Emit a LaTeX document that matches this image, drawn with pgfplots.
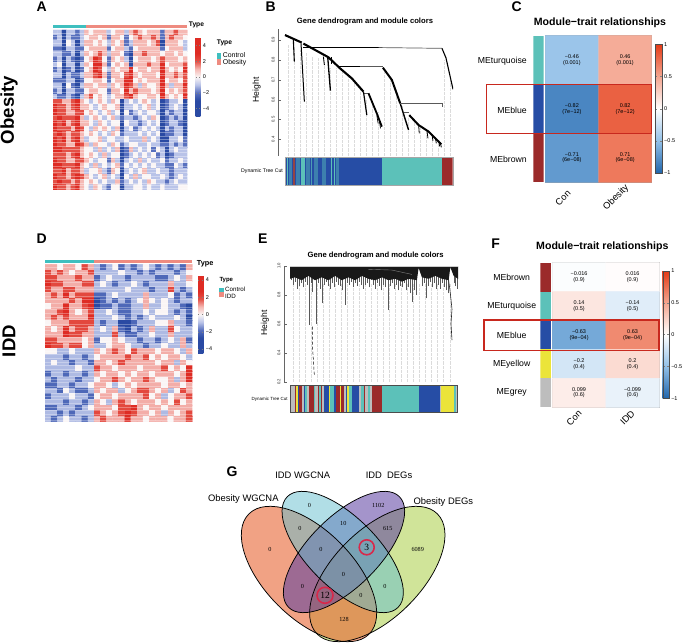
\documentclass[border=0pt]{standalone}
\usepackage{fontspec}
\setmainfont{Liberation Sans}
\newfontfamily\serifv{Liberation Serif}
\usepackage{pgfplots}
\pgfplotsset{compat=1.18}
\definecolor{tq}{RGB}{92,193,185}
\definecolor{bl}{RGB}{38,77,165}
\definecolor{br}{RGB}{155,42,42}
\definecolor{ye}{RGB}{235,228,58}
\definecolor{gy}{RGB}{189,189,189}
\definecolor{mb}{RGB}{61,128,174}
\definecolor{teal2}{RGB}{63,191,191}
\definecolor{salm}{RGB}{238,139,128}
\definecolor{hl}{RGB}{200,40,30}
\definecolor{ring}{RGB}{216,40,74}
\pgfplotsset{
 colormap={hmA}{rgb255(0)=(42,74,163); rgb255(2)=(42,74,163); rgb255(3)=(88,112,190); rgb255(4)=(185,195,232); rgb255(5)=(250,245,245); rgb255(6)=(245,185,180); rgb255(7)=(228,80,70); rgb255(8)=(222,44,36); rgb255(10)=(222,44,36)},
 colormap={rb}{rgb255(0)=(33,102,172); rgb255(1)=(146,192,232); rgb255(2)=(255,255,255); rgb255(3)=(244,165,143); rgb255(4)=(229,59,22)},
 bx/.style={scale only axis,anchor=south west,clip=true},
}
\newcommand{\sz}[1]{\fontsize{#1}{#1}\selectfont}
\newcommand{\T}[4][]{\node[inner sep=0pt,#1] at (#2,{643-#3}) {#4};}
\newcommand{\seg}[3]{\addplot[fill=#1,draw=none,forget plot] coordinates {(#2,0)(#3,0)(#3,1)(#2,1)} --cycle;}
\newcommand{\cell}[3]{\node[align=center,inner sep=0pt,font=\sz{5.5}] at (axis cs:#1,#2) {#3};}
\begin{document}
\begin{tikzpicture}[x=1pt,y=1pt]
\useasboundingbox (0,0) rectangle (685,643);
% ---------- panel letters / row labels
\T[font=\sz{14}\bfseries]{41.7}{6.7}{A}
\T[font=\sz{14}\bfseries]{270.7}{6.7}{B}
\T[font=\sz{14}\bfseries]{516.7}{7}{C}
\T[font=\sz{14}\bfseries]{41.7}{238.3}{D}
\T[font=\sz{14}\bfseries]{262.7}{238.3}{E}
\T[font=\sz{14}\bfseries]{495.7}{243.3}{F}
\T[font=\sz{14}\bfseries]{232}{472}{G}
\T[font=\sz{18.6}\bfseries,rotate=90]{9}{110}{Obesity}
\T[font=\sz{18.6}\bfseries,rotate=90]{9}{341}{IDD}
% ---------- A heatmap
\begin{axis}[bx,at={(53pt,453pt)},width=134.3pt,height=160pt,hide axis,
 xmin=-0.5,xmax=29.5,ymin=-29.5,ymax=0.5,colormap name=hmA,point meta min=-5,point meta max=5,
 colorbar,colorbar style={at={(1.062,0.952)},anchor=north west,width=4.7pt,height=78.6pt,
  ytick={-4,-2,0,2,4},yticklabels={−4,−2,0,2,4},yticklabel style={font=\sz{5.5},xshift=-1pt},major tick length=1pt,axis line style={draw=none}}]
\addplot[matrix plot*,mesh/cols=30,point meta=explicit] table[row sep=\\,header=false,x expr={mod(\coordindex,30)},y expr={-floor((\coordindex+0.5)/30)},meta index=0]{
-1\\-1\\-3\\-1\\-1\\-2\\-1\\1\\0\\1\\1\\1\\-1\\0\\1\\1\\-1\\1\\2\\1\\0\\1\\1\\1\\-2\\1\\1\\2\\1\\1\\
-2\\-1\\-3\\-1\\-2\\-2\\-1\\0\\1\\1\\0\\1\\-2\\1\\1\\0\\-2\\0\\1\\2\\1\\1\\2\\1\\-2\\1\\2\\1\\1\\0\\
-1\\-1\\-3\\0\\-1\\-3\\-1\\1\\1\\0\\1\\0\\-1\\1\\0\\1\\-2\\-1\\1\\1\\1\\0\\1\\2\\-3\\1\\1\\1\\0\\-1\\
-2\\-2\\-3\\-1\\-1\\-2\\-2\\0\\1\\1\\1\\1\\-2\\0\\1\\1\\-1\\-2\\0\\1\\1\\1\\1\\1\\-2\\0\\1\\1\\1\\-1\\
-1\\-1\\-2\\-2\\-1\\-3\\-1\\1\\0\\1\\2\\1\\-1\\1\\1\\0\\-2\\-3\\1\\1\\2\\1\\1\\1\\0\\1\\1\\0\\1\\0\\
-2\\-1\\-3\\-1\\-2\\-3\\-2\\0\\1\\3\\2\\0\\-2\\1\\0\\1\\-1\\-3\\0\\1\\1\\1\\0\\1\\2\\1\\1\\1\\0\\1\\
-1\\0\\-3\\-1\\-1\\-3\\-1\\1\\0\\3\\3\\1\\-2\\0\\1\\0\\1\\-3\\1\\1\\1\\2\\1\\1\\3\\0\\1\\1\\1\\2\\
-2\\-1\\-3\\-2\\-1\\-3\\-2\\0\\1\\3\\2\\0\\-1\\1\\0\\1\\1\\3\\0\\1\\1\\0\\1\\1\\3\\1\\0\\1\\0\\3\\
-1\\-1\\-3\\-1\\-2\\-2\\-1\\1\\1\\2\\3\\1\\-2\\1\\1\\0\\2\\3\\1\\0\\1\\1\\1\\0\\3\\1\\1\\2\\1\\2\\
-2\\-2\\-2\\-1\\-1\\-3\\-2\\0\\0\\1\\1\\0\\-2\\0\\1\\1\\3\\3\\0\\1\\0\\1\\1\\1\\3\\0\\1\\1\\0\\2\\
-1\\-1\\-3\\0\\-2\\-3\\-1\\1\\1\\0\\1\\1\\-1\\1\\0\\1\\3\\2\\1\\-1\\1\\0\\0\\1\\3\\1\\-1\\1\\1\\3\\
-2\\-1\\-3\\-1\\-1\\-2\\-2\\0\\1\\1\\0\\0\\-2\\1\\1\\0\\3\\1\\2\\1\\1\\1\\0\\1\\3\\0\\1\\0\\1\\2\\
-1\\-2\\-2\\-1\\-2\\-3\\-1\\1\\2\\0\\1\\0\\-1\\0\\1\\1\\2\\3\\1\\0\\0\\1\\1\\0\\3\\1\\0\\1\\0\\3\\
2\\2\\1\\1\\2\\3\\1\\0\\-1\\0\\1\\0\\-1\\1\\0\\-3\\-1\\0\\-1\\0\\1\\0\\-1\\0\\-3\\-2\\-1\\-1\\0\\-3\\
3\\2\\2\\1\\2\\3\\1\\1\\0\\-1\\0\\1\\0\\0\\1\\-3\\-1\\-1\\0\\-1\\0\\1\\-1\\0\\-3\\-2\\-1\\0\\-1\\-3\\
3\\2\\2\\1\\1\\2\\2\\0\\1\\0\\-1\\0\\1\\-1\\0\\-3\\0\\-2\\-1\\0\\-1\\0\\0\\-1\\-3\\-1\\-2\\-1\\-1\\-3\\
2\\3\\2\\2\\2\\3\\1\\-1\\0\\1\\0\\-1\\0\\1\\-1\\-2\\-1\\-1\\-2\\-1\\0\\-1\\1\\0\\-3\\-2\\-1\\-2\\-1\\-3\\
3\\2\\3\\1\\2\\3\\1\\1\\0\\-1\\1\\0\\-1\\0\\0\\-3\\0\\-1\\-1\\-2\\-1\\0\\-1\\0\\-3\\-2\\-1\\-1\\-2\\-3\\
3\\2\\2\\2\\1\\3\\2\\0\\-1\\1\\0\\1\\0\\-1\\1\\-3\\-1\\0\\-2\\-1\\0\\-1\\0\\-1\\-3\\-1\\-2\\-1\\-1\\-3\\
2\\3\\2\\1\\2\\2\\1\\0\\1\\0\\-1\\0\\-1\\1\\0\\-2\\-1\\-1\\-1\\0\\-1\\0\\-1\\0\\-3\\-2\\-2\\-1\\-1\\-3\\
3\\2\\3\\1\\2\\3\\1\\-1\\0\\0\\1\\-1\\0\\0\\-1\\-1\\0\\-1\\-1\\-1\\1\\-1\\0\\-1\\-3\\-3\\-1\\-1\\0\\-2\\
3\\2\\2\\1\\1\\3\\2\\1\\-1\\1\\0\\0\\-1\\1\\0\\-2\\-1\\0\\0\\-1\\-1\\0\\-1\\-1\\-2\\-2\\-1\\-2\\-1\\-2\\
3\\3\\2\\2\\2\\2\\1\\0\\0\\-1\\1\\-1\\0\\-1\\1\\-3\\-2\\1\\-1\\0\\-1\\0\\-2\\0\\-1\\-3\\-1\\0\\-1\\-1\\
2\\2\\2\\1\\2\\3\\1\\0\\1\\0\\-1\\1\\-1\\0\\0\\-3\\-2\\-1\\0\\-1\\0\\-1\\0\\-2\\-1\\-3\\-2\\-1\\-1\\-1\\
3\\2\\2\\1\\1\\2\\2\\1\\0\\-1\\0\\0\\-2\\1\\-1\\-3\\-1\\0\\-1\\1\\-1\\0\\-1\\-1\\0\\-2\\-1\\-1\\0\\-1\\
3\\3\\2\\2\\2\\3\\1\\0\\-1\\1\\-1\\0\\-1\\0\\1\\-2\\0\\-1\\0\\-1\\0\\-1\\0\\-1\\-1\\-2\\-2\\0\\-1\\-2\\
2\\2\\3\\1\\2\\2\\1\\-1\\0\\0\\1\\-1\\-2\\1\\0\\-3\\-1\\0\\-1\\0\\1\\-1\\-1\\0\\-1\\-1\\-2\\-1\\-1\\-1\\
3\\2\\2\\1\\2\\3\\2\\1\\0\\-1\\0\\1\\-1\\0\\-1\\-3\\0\\-1\\1\\-1\\0\\0\\-1\\-1\\0\\-1\\-2\\-1\\0\\-1\\
2\\3\\2\\2\\1\\2\\1\\0\\1\\0\\-1\\0\\-1\\-1\\1\\-2\\-1\\0\\-1\\0\\-1\\1\\0\\-1\\-1\\-2\\-1\\0\\-1\\-1\\
3\\2\\2\\1\\2\\3\\1\\0\\-1\\1\\0\\-1\\-2\\0\\0\\-3\\-1\\-1\\0\\0\\-1\\0\\-1\\-1\\0\\-1\\-1\\-1\\0\\0\\
};
\addplot[only marks,mark=-,mark size=68pt,mark options={draw=white,line width=0.9pt,opacity=0.35}] table[row sep=\\,header=false,x expr=14.5,y index=0]{
-0.2\\-0.8\\-1.3\\-2.1\\-2.6\\-3.3\\-3.7\\-4.4\\-5.2\\-5.6\\-6.3\\-6.9\\-7.6\\-8.0\\-8.8\\-9.3\\-10.1\\-10.5\\-11.2\\-11.9\\-12.4\\-13.2\\-13.9\\-14.3\\-15.0\\-15.6\\-16.4\\-16.9\\-17.5\\-18.2\\-18.7\\-19.4\\-20.0\\-20.6\\-21.3\\-21.9\\-22.4\\-23.2\\-23.8\\-24.3\\-25.0\\-25.7\\-26.2\\-26.9\\-27.5\\-28.2\\-28.7\\-29.2\\
};
\end{axis}
% A annotation bar
\begin{axis}[bx,at={(53pt,614.7pt)},width=134.3pt,height=3.3pt,hide axis,xmin=53,xmax=187.3,ymin=0,ymax=1]
\seg{teal2}{53}{85.7}\seg{salm}{85.7}{187.3}
\end{axis}
\T[font=\sz{6.7}\bfseries,anchor=west]{188.7}{25.3}{Type}
\T[font=\sz{6.7}\bfseries,anchor=west]{216.7}{43.3}{Type}
\fill[teal2] (216.7,{643-58.7}) rectangle (221.3,{643-52.7});
\fill[salm] (216.7,{643-64.7}) rectangle (221.3,{643-58.7});
\T[font=\sz{6.9},anchor=west]{222.7}{55.3}{Control}
\T[font=\sz{6.9},anchor=west]{222.7}{63}{Obesity}
% ---------- D heatmap
\begin{axis}[bx,at={(45pt,221.3pt)},width=147.3pt,height=157.4pt,hide axis,
 xmin=-0.5,xmax=23.5,ymin=-27.5,ymax=0.5,colormap name=hmA,point meta min=-4.5,point meta max=4.5,
 colorbar,colorbar style={at={(1.039,0.9276)},anchor=north west,width=5.3pt,height=77.6pt,
  ytick={-4,-2,0,2,4},yticklabels={−4,−2,0,2,4},yticklabel style={font=\sz{5.5},xshift=-1pt},major tick length=1pt,axis line style={draw=none}}]
\addplot[matrix plot*,mesh/cols=24,point meta=explicit] table[row sep=\\,header=false,x expr={mod(\coordindex,24)},y expr={-floor((\coordindex+0.5)/24)},meta index=0]{
1\\1\\0\\1\\1\\0\\2\\1\\-1\\-2\\-1\\0\\-2\\-1\\-2\\-1\\0\\-1\\-2\\-1\\-2\\-1\\-2\\1\\
2\\1\\2\\1\\0\\1\\1\\2\\-1\\-1\\-1\\-1\\0\\-1\\-1\\-2\\-1\\-2\\-1\\-1\\-1\\-2\\-1\\0\\
2\\2\\1\\1\\1\\2\\1\\1\\-2\\-1\\0\\-1\\-1\\-2\\-1\\-1\\-1\\-1\\-2\\-2\\-1\\0\\-1\\1\\
3\\2\\2\\1\\1\\1\\2\\2\\-1\\0\\-1\\-2\\-1\\-1\\0\\-1\\-2\\-1\\-1\\-1\\1\\-1\\-1\\0\\
2\\1\\1\\2\\2\\1\\1\\1\\-1\\-1\\-1\\-1\\-1\\0\\-1\\-1\\-1\\-2\\-1\\-1\\2\\-1\\-2\\-1\\
1\\2\\1\\3\\1\\2\\2\\2\\-2\\-2\\-1\\0\\-1\\-1\\-1\\-1\\1\\-1\\-1\\-1\\0\\-2\\-1\\-2\\
1\\1\\1\\1\\2\\1\\3\\3\\-3\\-2\\-1\\-2\\-1\\-2\\-1\\0\\1\\0\\-1\\0\\-1\\-2\\-1\\-1\\
0\\1\\1\\3\\1\\1\\2\\3\\-3\\-2\\-2\\-1\\-2\\-2\\-1\\-1\\1\\-1\\-1\\0\\-1\\-1\\-2\\-3\\
1\\1\\2\\3\\1\\0\\1\\2\\-1\\-1\\0\\-1\\-2\\-2\\-1\\-1\\0\\-1\\0\\0\\-1\\-2\\-1\\-2\\
1\\2\\1\\2\\1\\1\\1\\3\\-1\\-1\\-1\\0\\-1\\-2\\-1\\-2\\-1\\0\\-1\\-1\\-1\\0\\-1\\-3\\
0\\1\\1\\1\\2\\2\\2\\2\\-1\\-2\\-1\\-1\\-3\\-3\\-2\\-1\\-1\\-1\\0\\0\\1\\-1\\-1\\-2\\
1\\0\\1\\3\\1\\2\\2\\1\\-1\\0\\-1\\1\\-2\\-3\\-1\\-2\\-1\\1\\-1\\-1\\2\\0\\-1\\-1\\
1\\1\\1\\3\\2\\2\\1\\1\\-1\\-1\\-1\\2\\-1\\-2\\-2\\-1\\-1\\0\\-1\\-1\\1\\-1\\-1\\-1\\
2\\2\\1\\1\\1\\1\\0\\1\\-2\\0\\0\\1\\0\\-1\\-1\\-2\\-1\\-1\\-2\\-1\\0\\-1\\1\\-2\\
3\\2\\2\\1\\2\\2\\0\\1\\-1\\-1\\0\\1\\1\\0\\-1\\-1\\-2\\-1\\-1\\0\\-1\\-1\\1\\-1\\
0\\0\\-1\\-1\\0\\-1\\-1\\-1\\1\\0\\1\\2\\1\\0\\2\\1\\1\\1\\0\\1\\1\\0\\-1\\1\\
-1\\-1\\-1\\-2\\-1\\-1\\-2\\-1\\0\\1\\1\\1\\1\\2\\1\\1\\2\\0\\1\\0\\1\\1\\0\\-1\\
-1\\0\\-1\\-1\\-2\\-1\\-1\\-2\\1\\1\\0\\1\\2\\1\\1\\1\\1\\1\\0\\1\\1\\-1\\1\\0\\
-1\\-1\\-1\\-1\\-1\\0\\-1\\-1\\2\\1\\1\\0\\1\\1\\1\\0\\1\\1\\1\\2\\0\\1\\0\\3\\
-2\\-1\\-1\\-2\\-1\\-1\\-2\\-1\\1\\0\\1\\1\\0\\1\\0\\1\\1\\0\\1\\1\\1\\0\\1\\3\\
-1\\-2\\-1\\-1\\-1\\-2\\-1\\-1\\0\\1\\1\\2\\1\\0\\1\\1\\2\\1\\0\\0\\1\\-1\\1\\3\\
-2\\-2\\-1\\-1\\-2\\-1\\-1\\0\\1\\1\\0\\-1\\0\\1\\0\\1\\1\\1\\1\\0\\1\\1\\0\\1\\
-1\\-1\\-2\\0\\-1\\-2\\-2\\-1\\1\\0\\1\\1\\-1\\0\\1\\2\\2\\1\\0\\1\\-1\\0\\2\\1\\
-2\\-1\\-1\\-1\\0\\-1\\-1\\-2\\0\\1\\1\\0\\1\\1\\1\\1\\2\\0\\1\\-1\\0\\1\\1\\2\\
-1\\-1\\-1\\-2\\-1\\-1\\-2\\-1\\1\\0\\-1\\1\\2\\1\\0\\1\\1\\1\\0\\1\\0\\2\\0\\1\\
-2\\-2\\-1\\-1\\-1\\-2\\-1\\0\\1\\1\\1\\0\\2\\2\\3\\1\\0\\1\\1\\0\\1\\1\\1\\1\\
-1\\-1\\-2\\-1\\-2\\-1\\-1\\-1\\2\\1\\0\\1\\2\\3\\2\\1\\1\\0\\1\\-1\\1\\0\\1\\2\\
-1\\-2\\-1\\0\\-1\\-1\\-2\\-1\\1\\2\\1\\1\\1\\3\\1\\1\\0\\1\\1\\1\\0\\1\\1\\2\\
};
\addplot[only marks,mark=-,mark size=74pt,mark options={draw=white,line width=1pt,opacity=0.3}] table[row sep=\\,header=false,x expr=11.5,y index=0]{
-0.1\\-0.9\\-1.4\\-2.2\\-2.7\\-3.4\\-4.0\\-4.6\\-5.3\\-5.8\\-6.5\\-7.1\\-7.6\\-8.3\\-8.9\\-9.4\\-10.2\\-10.7\\-11.3\\-12.0\\-12.5\\-13.2\\-13.8\\-14.4\\-15.1\\-15.6\\-16.3\\-16.9\\-17.5\\-18.2\\-18.7\\-19.4\\-20.0\\-20.5\\-21.2\\-21.8\\-22.4\\-23.1\\-23.6\\-24.3\\-24.9\\-25.5\\-26.2\\-26.7\\-27.3\\
};
\end{axis}
\begin{axis}[bx,at={(45pt,379.7pt)},width=147.3pt,height=3.3pt,hide axis,xmin=45,xmax=192.3,ymin=0,ymax=1]
\seg{teal2}{45}{94}\seg{salm}{94}{192.3}
\end{axis}
\T[font=\sz{7.3}\bfseries,anchor=west]{196.7}{263.3}{Type}
\T[font=\sz{6}\bfseries,anchor=west]{219.3}{280}{Type}
\fill[teal2] (219.3,{643-292.3}) rectangle (223.7,{643-287.7});
\fill[salm] (219.3,{643-297}) rectangle (223.7,{643-292.3});
\T[font=\sz{6.2},anchor=west]{225}{289.3}{Control}
\T[font=\sz{6.2},anchor=west]{225}{296}{IDD}
% ---------- B dendrogram (x in zoom units)
\begin{axis}[scale only axis,anchor=south west,at={(278.3pt,487.3pt)},width=174.7pt,height=126.7pt,
 xmin=130,xmax=653,ymin=0.3177,ymax=0.9554,axis x line=none,axis y line*=left,
 axis line style={gray!80!black,-},ytick={0.4,0.5,0.6,0.7,0.8,0.9},yticklabels={0.4,0.5,0.6,0.7,0.8,0.9},
 yticklabel style={font=\sz{4.2},rotate=90,anchor=south,gray!30!black},tick style={gray!80!black},major tick length=3pt,tick pos=left]
\addplot[ycomb,densely dotted,gray!28,line width=0.3pt] coordinates {(158,.88)(176,.86)(194,.85)(212,.84)(230,.82)(248,.81)(266,.78)(284,.76)(302,.76)(320,.74)(338,.72)(356,.69)(374,.66)(392,.60)(410,.58)(428,.54)(446,.74)(464,.70)(482,.62)(500,.57)(518,.51)(536,.50)(554,.46)(572,.44)(590,.42)(608,.40)(626,.80)(644,.70)};
\addplot[black,line width=0.7pt] coordinates {(205,.862)(430,.862)};
\addplot[gray!70!black,line width=0.7pt] coordinates {(430,.862)(620,.858)};
\addplot[black,line width=1.1pt] coordinates {(620,.858)(632,.81)(653,.652)};
\addplot[black,line width=2.1pt] coordinates {(150,.925)(200,.887)};
\addplot[black,line width=2.1pt] coordinates {(205,.882)(240,.850)(280,.813)(315,.757)(350,.707)(385,.640)};
\addplot[black,line width=1.1pt] coordinates {(175,.903)(178,.791)};
\addplot[black,line width=1pt] coordinates {(198,.883)(208,.590)};
\addplot[black,line width=0.9pt] coordinates {(265,.816)(268,.774)};
\addplot[black,line width=1.3pt] coordinates {(278,.813)(286,.645)};
\addplot[black,line width=0.8pt] coordinates {(290,.813)(290,.780)};
\addplot[gray!70!black,line width=0.6pt] coordinates {(385,.632)(400,.632)};
\addplot[black,line width=1.2pt] coordinates {(385,.640)(395,.522)};
\addplot[black,line width=1.8pt] coordinates {(400,.632)(425,.530)(440,.464)};
\addplot[black,line width=0.7pt] coordinates {(432,.500)(436,.455)};
\addplot[black,line width=0.7pt] coordinates {(425,.520)(429,.480)};
\addplot[black,line width=0.8pt] coordinates {(312,.766)(375,.766)};
\addplot[gray!70!black,line width=0.6pt] coordinates {(375,.766)(443,.766)};
\addplot[black,line width=2pt] coordinates {(443,.761)(470,.699)(495,.581)};
\addplot[black,line width=1.4pt] coordinates {(495,.581)(520,.447)};
\addplot[gray!70!black,line width=0.7pt] coordinates {(495,.580)(620,.580)(620,.561)};
\addplot[gray!70!black,line width=0.6pt] coordinates {(505,.536)(522,.536)};
\addplot[black,line width=2pt] coordinates {(522,.522)(550,.472)(580,.439)(618,.375)};
\addplot[black,line width=0.8pt] coordinates {(550,.475)(552,.430)};
\addplot[black,line width=0.8pt] coordinates {(575,.445)(578,.405)};
\addplot[black,line width=0.8pt] coordinates {(590,.425)(593,.393)};
\addplot[black,line width=0.8pt] coordinates {(600,.410)(603,.380)};
\addplot[black,line width=0.8pt] coordinates {(610,.395)(613,.365)};
\addplot[black,line width=0.8pt] coordinates {(615,.385)(618,.360)};
\end{axis}
\begin{axis}[bx,at={(285pt,458pt)},width=167.7pt,height=28pt,hide axis,xmin=150,xmax=653,ymin=0,ymax=1]
\seg{bl}{150}{312}
\seg{tq}{155}{160}\seg{mb}{163}{170}\seg{br!70!gray}{174}{180}\seg{mb}{184}{196}\seg{tq}{198}{210}\seg{mb}{212}{225}\seg{tq!70!bl}{228}{232}\seg{mb}{238}{250}\seg{mb}{262}{274}\seg{tq}{289}{292}\seg{tq}{296}{300}\seg{mb}{304}{312}
\seg{bl}{312}{442}\seg{tq}{442}{620}\seg{br}{620}{653}
\end{axis}
\draw[gray!70,line width=0.4pt] (285,458) rectangle (452.7,486);
\T[font=\sz{7.65}\bfseries]{365}{22}{Gene dendrogram and module colors}
\T[font=\sz{8.6},rotate=90]{256.7}{90}{Height}
\T[font=\sz{5.2}]{262}{170.7}{Dynamic Tree Cut}
% ---------- E dendrogram
\begin{axis}[scale only axis,anchor=south west,at={(284pt,261.3pt)},width=174pt,height=116pt,
 xmin=147,xmax=668,ymin=0.2,ymax=1,axis x line=none,axis y line*=left,
 axis line style={gray!80!black,-},ytick={0.2,0.4,0.6,0.8,1},yticklabels={0.2,0.4,0.6,0.8,1.0},
 yticklabel style={font=\sz{4.2},rotate=90,anchor=south,gray!30!black},tick style={gray!80!black},major tick length=3pt,tick pos=left]
\addplot[ycomb,densely dotted,gray!28,line width=0.3pt] coordinates {(175,.88)(193,.88)(211,.88)(229,.88)(247,.88)(265,.88)(283,.88)(301,.88)(319,.88)(337,.88)(355,.88)(373,.88)(391,.88)(409,.88)(427,.88)(445,.88)(463,.88)(481,.88)(499,.88)(517,.88)(535,.88)(553,.88)(571,.88)(589,.88)(607,.88)(625,.88)(643,.88)};
\addplot[draw=none,error bars/.cd,y dir=plus,y explicit,error mark=none,error bar style={black!65,line width=0.55pt}] table[x=x,y=y,y error expr={0.99-\thisrow{y}}]{
x y
168 .90
174 .87
180 .89
186 .84
192 .86
198 .88
204 .85
210 .89
216 .87
222 .59
228 .88
233 .82
238 .90
245 .60
250 .88
256 .84
262 .74
268 .87
274 .89
280 .86
286 .84
292 .88
298 .85
304 .89
310 .87
316 .86
322 .83
330 .73
336 .88
342 .87
348 .89
354 .85
360 .88
366 .86
372 .89
378 .87
384 .84
390 .87
396 .88
402 .85
408 .90
414 .87
420 .84
426 .88
432 .86
438 .83
444 .87
450 .85
458 .694
464 .86
470 .88
476 .84
482 .87
488 .83
494 .86
500 .85
506 .88
512 .83
518 .85
524 .81
530 .752
536 .83
542 .80
560 .86
566 .88
572 .775
578 .86
584 .89
590 .85
596 .88
602 .84
608 .87
614 .84
620 .88
626 .85
632 .83
638 .81
656 .88
660 .86
666 .84
};
\addplot[fill=black!90,draw=none] coordinates {(165,.995)(668,.995)(668,.91)(655,.93)(645,.99)(640,.90)(620,.91)(600,.93)(580,.91)(560,.92)(550,.985)(545,.90)(520,.91)(500,.89)(480,.91)(460,.90)(440,.92)(420,.90)(400,.91)(380,.93)(360,.90)(340,.92)(320,.90)(300,.93)(280,.90)(260,.92)(240,.90)(220,.93)(200,.90)(180,.92)(165,.91)} --cycle;
\addplot[gray,line width=0.4pt] coordinates {(400,.975)(470,.97)(530,.94)};
\addplot[gray!40,line width=1.1pt] coordinates {(165,.997)(668,.997)};
\addplot[black,line width=0.5pt,densely dashed] coordinates {(232,.58)(233,.42)(238,.24)};
\addplot[gray!30!black,line width=0.6pt] coordinates {(640,.90)(645,.81)(650,.70)(647,.60)(650,.487)};
\end{axis}
\begin{axis}[bx,at={(290pt,230.3pt)},width=167.7pt,height=27.7pt,hide axis,xmin=165,xmax=668,ymin=0,ymax=1]
\seg{gy}{165}{180}\seg{br}{180}{184}\seg{ye}{184}{188}\seg{bl}{188}{192}\seg{br}{192}{200}\seg{gy}{200}{206}\seg{bl}{206}{210}\seg{tq}{210}{216}\seg{gy}{216}{222}\seg{br}{222}{238}\seg{tq}{238}{241}\seg{gy}{241}{248}\seg{br}{248}{252}\seg{tq}{252}{258}\seg{br}{258}{262}\seg{gy}{262}{268}\seg{bl}{268}{282}\seg{ye}{282}{286}\seg{tq}{286}{298}\seg{bl}{298}{302}\seg{br}{302}{314}\seg{ye}{314}{318}\seg{br}{318}{326}\seg{gy}{326}{332}\seg{bl}{332}{336}\seg{ye}{336}{342}\seg{tq}{342}{352}\seg{bl}{352}{372}\seg{gy}{372}{378}\seg{tq}{378}{386}\seg{br}{386}{390}\seg{gy}{390}{400}\seg{tq}{400}{406}\seg{gy}{406}{410}
\seg{br}{410}{440}\seg{tq}{440}{552}\seg{bl}{552}{615}\seg{gy}{615}{617}\seg{ye}{617}{657}\seg{tq}{657}{664}\seg{gy}{664}{668}
\end{axis}
\draw[gray!60!black,line width=0.5pt] (290,230.3) rectangle (457.7,258);
\T[font=\sz{7.65}\bfseries]{375.7}{256}{Gene dendrogram and module colors}
\T[font=\sz{8.6},rotate=90]{265}{323}{Height}
\T[font=\sz{4.5}]{269.7}{399.7}{Dynamic Tree Cut}
% ---------- C
\begin{axis}[scale only axis,anchor=south west,at={(545.3pt,460.7pt)},width=106.4pt,height=146.6pt,
 xmin=-0.5,xmax=1.5,ymin=-2.5,ymax=0.5,clip=false,colormap name=rb,point meta min=-1,point meta max=1,
 axis line style={gray!70,line width=0.7pt},xtick={0,1},xticklabels={Con,Obesity},
 ytick={-2,-1,0},yticklabels={MEbrown,MEblue,MEturquoise},major tick length=0pt,
 xticklabel style={font=\sz{9.3},rotate=45,anchor=center,xshift=-17.3pt,yshift=-4.6pt},
 yticklabel style={font=\sz{8.7},xshift=-15pt,yshift=-1.5pt},
 colorbar,colorbar style={at={(1.031,0.941)},anchor=north west,width=6.7pt,height=128.7pt,
  ytick={-1,-0.5,0,0.5,1},yticklabels={−1,−0.5,0,0.5,1},yticklabel style={font=\sz{5.5},xshift=-1pt},major tick length=2pt,axis line style={gray!60!black,line width=0.3pt}}]
\addplot[matrix plot*,mesh/cols=2,point meta=explicit] table[meta=v]{
x y v
0 0 -0.46
1 0 0.46
0 -1 -0.82
1 -1 0.82
0 -2 -0.71
1 -2 0.71
};
\cell{0}{0}{−0.46\\(0.001)}\cell{1}{0}{0.46\\(0.001)}
\cell{0}{-1}{−0.82\\(7e−12)}\cell{1}{-1}{0.82\\(7e−12)}
\cell{0}{-2}{−0.71\\(6e−08)}\cell{1}{-2}{0.71\\(6e−08)}
\end{axis}
\begin{axis}[bx,at={(533.3pt,460.7pt)},width=10.4pt,height=146.6pt,hide axis,xmin=0,xmax=1,ymin=0,ymax=3]
\addplot[fill=tq,draw=none] coordinates {(0,2)(1,2)(1,3)(0,3)} --cycle;
\addplot[fill=bl,draw=none] coordinates {(0,1)(1,1)(1,2)(0,2)} --cycle;
\addplot[fill=br,draw=none] coordinates {(0,0)(1,0)(1,1)(0,1)} --cycle;
\end{axis}
\draw[hl,line width=1.1pt] (486.7,{643-84.3}) rectangle (651.7,{643-133.3});
\T[font=\sz{10.6}\bfseries]{600}{23}{Module−trait relationships}
% ---------- F
\begin{axis}[scale only axis,anchor=south west,at={(552.3pt,235.7pt)},width=107pt,height=144.6pt,
 xmin=-0.5,xmax=1.5,ymin=-4.5,ymax=0.5,clip=false,colormap name=rb,point meta min=-1,point meta max=1,
 axis line style={gray!70,line width=0.7pt},xtick={0,1},xticklabels={Con,IDD},
 ytick={-4,-3,-2,-1,0},yticklabels={MEgrey,MEyellow,MEblue,MEturquoise,MEbrown},major tick length=0pt,
 xticklabel style={font=\sz{9.3},rotate=45,anchor=center,xshift=-11pt,yshift=-3.9pt},
 yticklabel style={font=\sz{8.7},anchor=center,xshift=-40.6pt},
 colorbar,colorbar style={at={(1.032,0.943)},anchor=north west,width=6pt,height=127.3pt,
  ytick={-1,-0.5,0,0.5,1},yticklabels={−1,−0.5,0,0.5,1},yticklabel style={font=\sz{5.5},xshift=-1pt},major tick length=2pt,axis line style={gray!60!black,line width=0.3pt}}]
\addplot[matrix plot*,mesh/cols=2,point meta=explicit] table[meta=v]{
x y v
0 0 -0.016
1 0 0.016
0 -1 0.14
1 -1 -0.14
0 -2 -0.63
1 -2 0.63
0 -3 -0.2
1 -3 0.2
0 -4 0.099
1 -4 -0.099
};
\cell{0}{0}{−0.016\\(0.9)}\cell{1}{0}{0.016\\(0.9)}
\cell{0}{-1}{0.14\\(0.5)}\cell{1}{-1}{−0.14\\(0.5)}
\cell{0}{-2}{−0.63\\(9e−04)}\cell{1}{-2}{0.63\\(9e−04)}
\cell{0}{-3}{−0.2\\(0.4)}\cell{1}{-3}{0.2\\(0.4)}
\cell{0}{-4}{0.099\\(0.6)}\cell{1}{-4}{−0.099\\(0.6)}
\end{axis}
\begin{axis}[bx,at={(540.3pt,235.7pt)},width=10.7pt,height=144.6pt,hide axis,xmin=0,xmax=1,ymin=0,ymax=5]
\addplot[fill=br,draw=none] coordinates {(0,4)(1,4)(1,5)(0,5)} --cycle;
\addplot[fill=tq,draw=none] coordinates {(0,3)(1,3)(1,4)(0,4)} --cycle;
\addplot[fill=bl,draw=none] coordinates {(0,2)(1,2)(1,3)(0,3)} --cycle;
\addplot[fill=ye,draw=none] coordinates {(0,1)(1,1)(1,2)(0,2)} --cycle;
\addplot[fill=gy,draw=none] coordinates {(0,0)(1,0)(1,1)(0,1)} --cycle;
\end{axis}
\draw[hl,line width=1.1pt] (484,{643-320}) rectangle (659,{643-350.7});
\T[font=\sz{10.6}\bfseries]{602.3}{246.7}{Module−trait relationships}
% ---------- G Venn
\definecolor{vo}{RGB}{232,100,50}\definecolor{vb}{RGB}{100,190,205}\definecolor{vp}{RGB}{90,60,160}\definecolor{vg}{RGB}{170,205,70}
\fill[vg,fill opacity=0.55,rotate around={45:(377.3,69)}] (377.3,69) ellipse [x radius=85,y radius=44];
\fill[vo,fill opacity=0.6,rotate around={-45:(309,69)}] (309,69) ellipse [x radius=85,y radius=44];
\fill[vp,fill opacity=0.55,rotate around={45:(344,91)}] (344,91) ellipse [x radius=78.3,y radius=35];
\fill[vb,fill opacity=0.5,rotate around={-45:(342.7,91)}] (342.7,91) ellipse [x radius=78.3,y radius=35];
\draw[black,line width=0.75pt,rotate around={45:(377.3,69)}] (377.3,69) ellipse [x radius=85,y radius=44];
\draw[black,line width=0.75pt,rotate around={-45:(309,69)}] (309,69) ellipse [x radius=85,y radius=44];
\draw[black,line width=0.75pt,rotate around={45:(344,91)}] (344,91) ellipse [x radius=78.3,y radius=35];
\draw[black,line width=0.75pt,rotate around={-45:(342.7,91)}] (342.7,91) ellipse [x radius=78.3,y radius=35];
\T[font=\sz{6.2}\serifv]{270}{549.3}{0}
\T[font=\sz{6.2}\serifv]{309.3}{505}{0}
\T[font=\sz{6.2}\serifv]{378.3}{505.7}{1102}
\T[font=\sz{6.2}\serifv]{300}{528.3}{0}
\T[font=\sz{6.2}\serifv]{343.3}{523.3}{10}
\T[font=\sz{6.2}\serifv]{387.7}{528.3}{615}
\T[font=\sz{6.2}\serifv]{417.7}{549.3}{6089}
\T[font=\sz{6.2}\serifv]{321}{549.3}{0}
\T[font=\sz{9.5}\serifv]{366.7}{547.3}{3}
\T[font=\sz{6.2}\serifv]{343.3}{574.3}{0}
\T[font=\sz{6.2}\serifv]{302.3}{586.7}{0}
\T[font=\sz{6.2}\serifv]{385}{586.7}{0}
\T[font=\sz{9.5}\serifv]{325}{595.7}{12}
\T[font=\sz{6.2}\serifv]{361}{595.7}{0}
\T[font=\sz{6.2}\serifv]{344}{619.3}{128}
\draw[ring,line width=1.6pt] (366.7,{643-547.3}) circle (7.5);
\draw[ring,line width=1.6pt] (325,{643-595.3}) circle (8);
\T[font=\sz{9.4}]{302.7}{475.7}{IDD WGCNA}
\T[font=\sz{9.4}]{389}{475.7}{IDD\ \ DEGs}
\T[font=\sz{9.4}]{243.3}{499.3}{Obesity WGCNA}
\T[font=\sz{9.4}]{443.3}{501.7}{Obesity DEGs}
\end{tikzpicture}
\end{document}
